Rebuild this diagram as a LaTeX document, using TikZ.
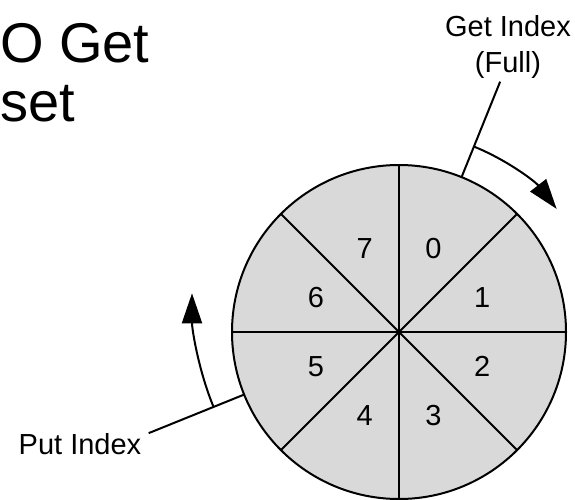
\documentclass[tikz,border=0pt]{standalone}
\usepackage{fontspec}
\setmainfont{Liberation Sans}
\usetikzlibrary{arrows.meta,calc}
\definecolor{slot}{HTML}{D9D9D9}
\definecolor{ink}{HTML}{000000}
\tikzset{
  >={Triangle[length=30pt,width=20pt]},
  every node/.style={text=ink},
  ring/.style={draw=ink,line width=2pt,fill=slot},
  spoke/.style={draw=ink,line width=2pt},
  slotnum/.style={font=\fontsize{29}{36}\selectfont,inner sep=0pt},
  tag/.style={font=\fontsize{29}{36}\selectfont,align=center,inner sep=0pt},
  title/.style={font=\fontsize{56}{59}\selectfont,inner sep=0pt,anchor=base west},
  leader/.style={draw=ink,line width=2pt},
  move/.style={->,draw=ink,line width=2pt},
}

\begin{document}
\begin{tikzpicture}[x=1pt,y=1pt]
\useasboundingbox (0,0) rectangle (575,499);

% title, cut at the left edge
\node[title] (title1) at (0,436.3) {O Get};
\node[title] (title2) at (0,377.3) {set};

% ring buffer with eight slots
\coordinate (c) at (399,167);
\draw[ring] (c) circle (167pt);
\foreach \a in {0,45,...,315}
  \draw[spoke] (c) -- ++(\a:167pt);
\foreach \i in {0,...,7}
  \node[slotnum] (slot\i) at ($(c)+({67.5-45*\i}:90pt)$) {\i};

% get index
\node[tag,anchor=south] (get) at (508,420.5) {Get Index\\(Full)};
\coordinate (getrim) at ($(c)+(68:167pt)$);
\coordinate (getend) at ($(c)+(68:270pt)$);
\coordinate (getarc) at ($(c)+(68:200pt)$);
\draw[leader] (getrim) -- (getend);
\draw[move] (getarc) arc[start angle=68,end angle=38,radius=200pt];

% put index
\node[tag,anchor=base west] (put) at (18.5,45) {Put Index};
\coordinate (putrim) at ($(c)+(202:167pt)$);
\coordinate (putend) at ($(c)+(202:270pt)$);
\coordinate (putarc) at ($(c)+(202:200pt)$);
\coordinate (puttip) at (192,205.7);
\draw[leader] (putrim) -- (putend);
\draw[move] (putarc) .. controls (199,127) and (192,169) .. (puttip);

\end{tikzpicture}
\end{document}
